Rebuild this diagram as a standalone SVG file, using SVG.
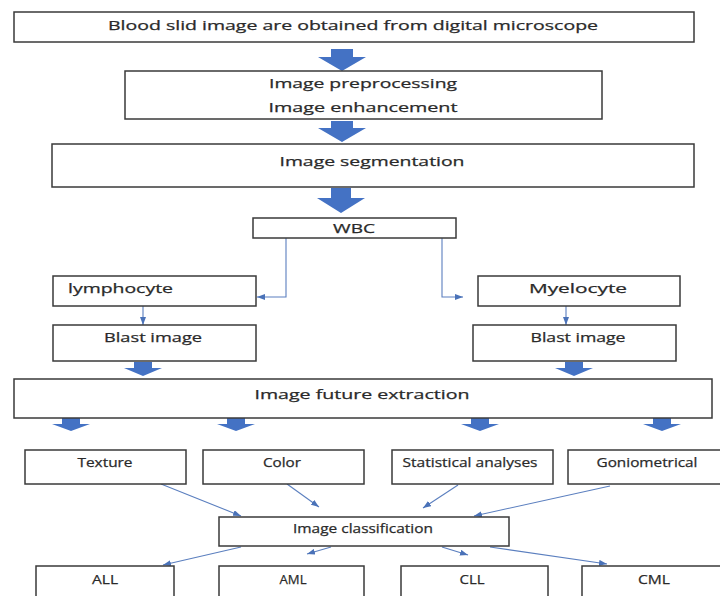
<svg xmlns="http://www.w3.org/2000/svg" width="720" height="596" viewBox="0 0 720 596">
<style>
.box{fill:#fff;stroke:#3a3a3a;stroke-width:1.5}
.t{font-family:"Open Sans","Liberation Sans",sans-serif;font-size:13px;fill:#2a2a2a;stroke:#2a2a2a;stroke-width:0.25;text-anchor:middle}
.tl{font-family:"Open Sans","Liberation Sans",sans-serif;font-size:13px;fill:#2a2a2a;stroke:#2a2a2a;stroke-width:0.25}
.blk{fill:#4472C4}
.con{fill:none;stroke:#5B7FBF;stroke-width:1.1;marker-end:url(#ah)}
</style>
<defs>
<marker id="ah" markerUnits="userSpaceOnUse" markerWidth="8" markerHeight="6" refX="8" refY="3" orient="auto">
<path d="M0,0 L8,3 L0,6 z" fill="#4A72B8"/>
</marker>
</defs>
<rect width="720" height="596" fill="#fff"/>

<g id="connectors">
<path class="blk" d="M331,49 H353 V57 H366 L342,71 L318,57 H331 Z"/>
<path class="blk" d="M331,121 H353 V128 H366 L342,142 L318,128 H331 Z"/>
<path class="blk" d="M331,188 H351 V198 H365 L341,213 L317,198 H331 Z"/>
<path class="blk" d="M134,362 H152 V368 H162 L143,376 L124,368 H134 Z"/>
<path class="blk" d="M565,362 H583 V368 H593 L574,376 L555,368 H565 Z"/>
<path class="blk" d="M62,418 H80 V424 H90 L71,431 L52,424 H62 Z"/>
<path class="blk" d="M227,418 H245 V424 H255 L236,431 L217,424 H227 Z"/>
<path class="blk" d="M471,418 H489 V424 H499 L480,431 L461,424 H471 Z"/>
<path class="blk" d="M653,418 H671 V424 H681 L662,431 L643,424 H653 Z"/>
<path class="con" d="M286,238 V297 H257"/>
<path class="con" d="M442,238 V297 H463"/>
<path class="con" d="M143,306 V325"/>
<path class="con" d="M566,306 V325"/>
<path class="con" d="M161,484 L241,516"/>
<path class="con" d="M287,484 L319,507"/>
<path class="con" d="M458,485 L423,508"/>
<path class="con" d="M610,486 L474,516"/>
<path class="con" d="M241,547 L163,565"/>
<path class="con" d="M331,547 L307,554"/>
<path class="con" d="M442,547 L468,555"/>
<path class="con" d="M490,547 L607,564"/>
</g>

<g id="n-source"><rect class="box" x="14" y="12" width="680" height="30"/><text class="t" x="353" y="30" textLength="490" lengthAdjust="spacingAndGlyphs">Blood slid image are obtained from digital microscope</text></g>
<g id="n-preprocess"><rect class="box" x="125" y="71" width="477" height="48"/><text class="t" x="363" y="88" textLength="188" lengthAdjust="spacingAndGlyphs">Image preprocessing</text><text class="t" x="363" y="112" textLength="189" lengthAdjust="spacingAndGlyphs">Image enhancement</text></g>
<g id="n-segmentation"><rect class="box" x="52" y="144" width="642" height="43"/><text class="t" x="372" y="166" textLength="185" lengthAdjust="spacingAndGlyphs">Image segmentation</text></g>
<g id="n-wbc"><rect class="box" x="253" y="218" width="203" height="20"/><text class="t" x="354" y="233" textLength="42" lengthAdjust="spacingAndGlyphs">WBC</text></g>
<g id="n-lymphocyte"><rect class="box" x="53" y="276" width="203" height="30"/><text class="tl" x="68" y="293" textLength="105" lengthAdjust="spacingAndGlyphs">lymphocyte</text></g>
<g id="n-blast-left"><rect class="box" x="53" y="325" width="203" height="36"/><text class="t" x="153" y="342" textLength="98" lengthAdjust="spacingAndGlyphs">Blast image</text></g>
<g id="n-myelocyte"><rect class="box" x="478" y="276" width="202" height="30"/><text class="t" x="578" y="293" textLength="98" lengthAdjust="spacingAndGlyphs">Myelocyte</text></g>
<g id="n-blast-right"><rect class="box" x="473" y="325" width="203" height="36"/><text class="t" x="578" y="342" textLength="95" lengthAdjust="spacingAndGlyphs">Blast image</text></g>
<g id="n-feature"><rect class="box" x="14" y="379" width="698" height="39"/><text class="t" x="362" y="399" textLength="215" lengthAdjust="spacingAndGlyphs">Image future extraction</text></g>
<g id="n-texture"><rect class="box" x="25" y="450" width="161" height="34"/><text class="t" x="105" y="467" textLength="55" lengthAdjust="spacingAndGlyphs">Texture</text></g>
<g id="n-color"><rect class="box" x="203" y="450" width="161" height="34"/><text class="t" x="282" y="467" textLength="38" lengthAdjust="spacingAndGlyphs">Color</text></g>
<g id="n-statistical"><rect class="box" x="392" y="450" width="161" height="34"/><text class="t" x="470" y="467" textLength="135" lengthAdjust="spacingAndGlyphs">Statistical analyses</text></g>
<g id="n-goniometrical"><rect class="box" x="568" y="450" width="154" height="34"/><text class="t" x="647" y="467" textLength="101" lengthAdjust="spacingAndGlyphs">Goniometrical</text></g>
<g id="n-classification"><rect class="box" x="219" y="517" width="290" height="29"/><text class="t" x="363" y="533" textLength="140" lengthAdjust="spacingAndGlyphs">Image classification</text></g>
<g id="n-all"><rect class="box" x="36" y="566" width="138" height="40"/><text class="t" x="105" y="584" textLength="26" lengthAdjust="spacingAndGlyphs">ALL</text></g>
<g id="n-aml"><rect class="box" x="219" y="566" width="145" height="40"/><text class="t" x="293" y="584" textLength="27" lengthAdjust="spacingAndGlyphs">AML</text></g>
<g id="n-cll"><rect class="box" x="401" y="566" width="147" height="40"/><text class="t" x="472" y="584" textLength="25" lengthAdjust="spacingAndGlyphs">CLL</text></g>
<g id="n-cml"><rect class="box" x="582" y="566" width="140" height="40"/><text class="t" x="654" y="584" textLength="32" lengthAdjust="spacingAndGlyphs">CML</text></g>
</svg>
